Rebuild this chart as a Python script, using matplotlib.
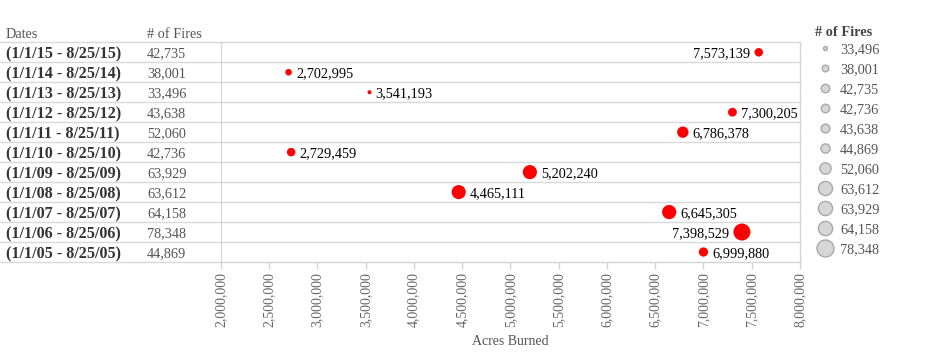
import matplotlib
matplotlib.use("Agg")
import matplotlib.pyplot as plt
import matplotlib.transforms as mtransforms
from matplotlib.lines import Line2D
from matplotlib.ticker import FuncFormatter
import numpy as np

plt.rcParams['font.family'] = ['Liberation Serif', 'DejaVu Serif']

# ---------------- data ----------------
dates = ["(1/1/15 - 8/25/15)", "(1/1/14 - 8/25/14)", "(1/1/13 - 8/25/13)",
         "(1/1/12 - 8/25/12)", "(1/1/11 - 8/25/11)", "(1/1/10 - 8/25/10)",
         "(1/1/09 - 8/25/09)", "(1/1/08 - 8/25/08)", "(1/1/07 - 8/25/07)",
         "(1/1/06 - 8/25/06)", "(1/1/05 - 8/25/05)"]
fires = [42735, 38001, 33496, 43638, 52060, 42736, 63929, 63612, 64158, 78348, 44869]
acres = [7573139, 2702995, 3541193, 7300205, 6786378, 2729459, 5202240,
         4465111, 6645305, 7398529, 6999880]
xticks = [2000000, 2500000, 3000000, 3500000, 4000000, 4500000, 5000000,
          5500000, 6000000, 6500000, 7000000, 7500000, 8000000]

W, H = 952, 353
fig = plt.figure(figsize=(W / 100, H / 100), dpi=100)

# pixel layout
L, R, T, B = 220.7, 800.0, 42.3, 262.0
ax = fig.add_axes([L / W, (H - B) / H, (R - L) / W, (B - T) / H])
n = len(dates)
ypos = np.arange(n)
ax.set_xlim(xticks[0], xticks[-1])
ax.set_ylim(n - 0.5, -0.5)

# size scale (diameter in px)
fmin, fmax = min(fires), max(fires)
def diam_px(v):
    d2 = 16 + (v - fmin) * (289 - 16) / (fmax - fmin)
    return np.sqrt(d2)
def size_pt2(v):
    return (diam_px(v) * 0.72) ** 2

ax.scatter(acres, ypos, s=[size_pt2(f) for f in fires], color='#ff0000',
           edgecolor='none', zorder=3, clip_on=False)

# data labels
for a, f, y in zip(acres, fires, ypos):
    r_pt = diam_px(f) / 2 * 0.72 + 3
    txt = f"{a:,}"
    if a > 7.35e6:
        ax.annotate(txt, (a, y), xytext=(-r_pt, 0), textcoords='offset points',
                    ha='right', va='center_baseline', fontsize=10.3, color='black')
    else:
        ax.annotate(txt, (a, y), xytext=(r_pt, 0), textcoords='offset points',
                    ha='left', va='center_baseline', fontsize=10.3, color='black')

# frame / ticks
for s in ['top', 'right']:
    ax.spines[s].set_visible(False)
ax.spines['left'].set_color('#d4d4d4')
ax.spines['bottom'].set_color('#d4d4d4')
ax.set_yticks([])
ax.set_xticks(xticks)
ax.xaxis.set_major_formatter(FuncFormatter(lambda v, p: f"{int(v):,}"))
ax.tick_params(axis='x', colors='#d4d4d4', length=5, width=1, labelcolor='#666666',
               labelsize=10, labelrotation=90, pad=2)
# Tableau-like slight spread of rotated labels toward the centre
for i, lab in enumerate(ax.get_xticklabels()):
    frac = i / (len(xticks) - 1)
    dx = (7 - 14 * frac) / 100 * 72 / 72
    lab.set_transform(lab.get_transform() +
                      mtransforms.ScaledTranslation(dx * 100 / 100 / 1.0 / 100 * 100 / 100, 0,
                                                    fig.dpi_scale_trans))
ax.set_xlabel("Acres Burned", fontsize=10, color='#555555', labelpad=6)

# right border
ax.plot([1, 1], [0, 1], transform=ax.transAxes, color='#d4d4d4', lw=1, clip_on=False)

# row separators across table + plot
trans_rows = mtransforms.blended_transform_factory(fig.transFigure, ax.transData)
for k in range(n + 1):
    yb = k - 0.5
    ax.add_line(Line2D([0, R / W], [yb, yb], transform=trans_rows, color='#d9d9d9',
                       lw=1, clip_on=False, zorder=1))

# table text
for d, f, y in zip(dates, fires, ypos):
    ax.text(6 / W, y, d, transform=trans_rows, ha='left', va='center_baseline',
            fontsize=11.6, fontweight='bold', color='#333333')
    ax.text(147 / W, y, f"{f:,}", transform=trans_rows, ha='left', va='center_baseline',
            fontsize=10.3, color='#555555')

fig.text(6 / W, 1 - 33 / H, "Dates", ha='left', va='center_baseline', fontsize=10.3, color='#555555')
fig.text(147 / W, 1 - 33 / H, "# of Fires", ha='left', va='center_baseline', fontsize=10.3, color='#555555')

# legend (in pixel space)
lax = fig.add_axes([0, 0, 1, 1], zorder=-1)
lax.set_xlim(0, W)
lax.set_ylim(H, 0)
lax.axis('off')
lax.text(815, 31, "# of Fires", ha='left', va='center_baseline', fontsize=10.3,
         fontweight='bold', color='#444444')
order = np.argsort(fires, kind='stable')
for i, idx in enumerate(order):
    yy = 48.3 + i * 20
    lax.scatter([825], [yy], s=size_pt2(fires[idx]), color='#d6d6d6',
                edgecolor='#a9a9a9', linewidth=1)
    lax.text(840, yy, f"{fires[idx]:,}", ha='left', va='center_baseline',
             fontsize=10.3, color='#555555')

fig.savefig("out.png", dpi=100)
